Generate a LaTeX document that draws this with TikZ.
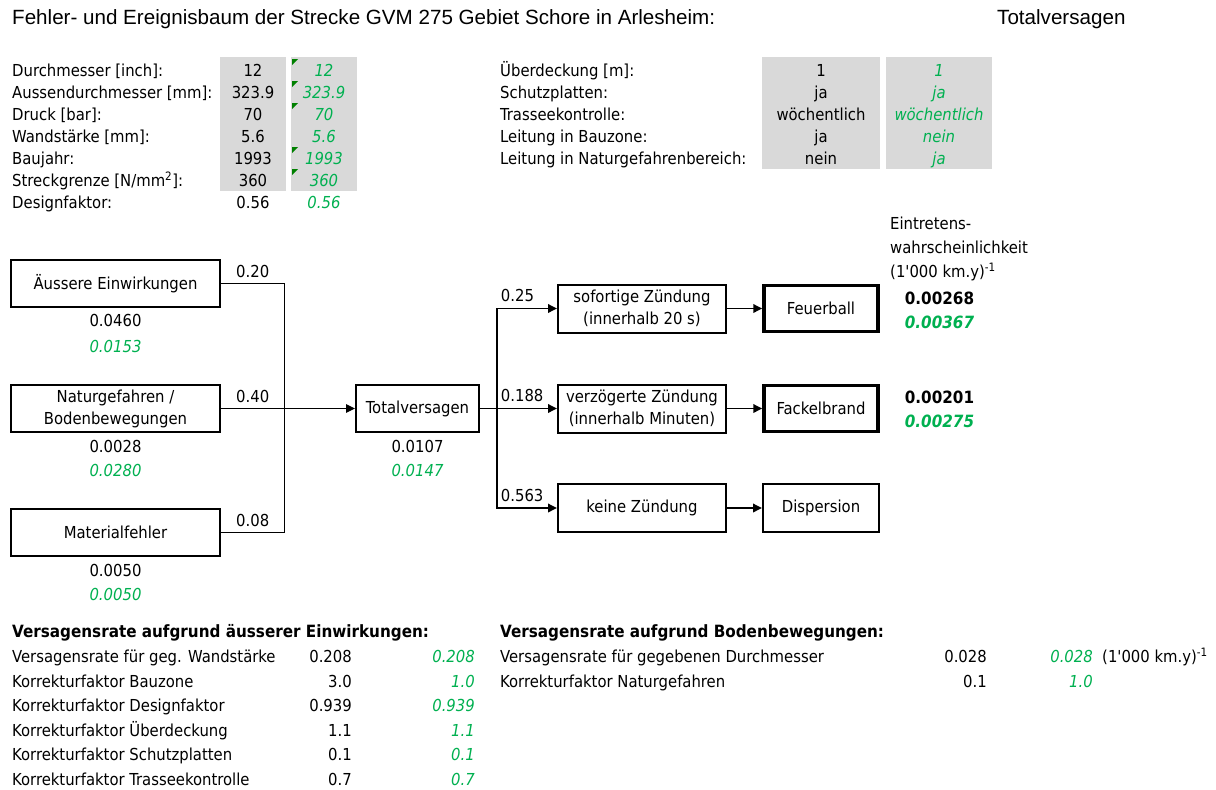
\documentclass[tikz,border=0pt]{standalone}
\usepackage{fontspec}
\setmainfont{DejaVu Sans Condensed}
\newfontfamily\titlefont{Liberation Sans}
\usetikzlibrary{arrows.meta,positioning}
\definecolor{xlgreen}{RGB}{0,176,80}
\definecolor{xlgray}{RGB}{217,217,217}
\definecolor{xlflag}{RGB}{0,128,0}

\begin{document}
\begin{tikzpicture}[
    x = 1pt,
    y = -1pt,
    >={Triangle[length=9pt,width=8.5pt]},
    txt/.style = {font=\fontsize{16.5}{22}\selectfont, inner sep=0pt,
    text height=11.9pt, text depth=0pt},
    lbl/.style = {txt, anchor=west},
    alt/.style = {txt, text=xlgreen, font=\fontsize{16.5}{22}\selectfont\itshape},
    res/.style = {txt, font=\fontsize{16.9}{22}\selectfont\bfseries},
    resalt/.style = {res, text=xlgreen, font=\fontsize{16.9}{22}\selectfont\bfseries\itshape},
    titletxt/.style = {inner sep=0pt, anchor=west, font=\titlefont\fontsize{20.6}{24}\selectfont},
    cell/.style = {fill=xlgray},
    flag/.style = {fill=xlflag},
    box/.style = {draw, line width=2pt, inner sep=0pt, align=center,
    font=\fontsize{16.5}{22}\selectfont, minimum height=47pt},
    endbox/.style = {box, line width=3.5pt, minimum height=46pt},
    conn/.style = {line width=1.8pt},
    thinconn/.style = {line width=1pt},
]
\useasboundingbox (0,0) rectangle (1216,790);

\node[titletxt] (title) at (12,19) {Fehler- und Ereignisbaum der Strecke GVM 275 Gebiet Schore in Arlesheim:};
\node[titletxt] (title_case) at (997,19) {Totalversagen};

\fill[cell] (220,57) rectangle (286,191);
\fill[cell] (291,57) rectangle (357,191);
\fill[cell] (762,57) rectangle (880,169);
\fill[cell] (886,57) rectangle (992,169);
\foreach \row in {0,1,2,4,5}
    \fill[flag] (292,59+22*\row) -- ++(6,0) -- ++(-6,6) -- cycle;

\node[lbl] (pipe_lab_0) at (12,70.5){Durchmesser [inch]:};
\node[lbl] (pipe_lab_1) at (12,92.5){Aussendurchmesser [mm]:};
\node[lbl] (pipe_lab_2) at (12,114.5){Druck [bar]:};
\node[lbl] (pipe_lab_3) at (12,136.5){Wandstärke [mm]:};
\node[lbl] (pipe_lab_4) at (12,158.5){Baujahr:};
\node[lbl] (pipe_lab_5) at (12,180.5){Streckgrenze [N/mm\textsuperscript{2}]:};
\node[lbl] (pipe_lab_6) at (12,202.5){Designfaktor:};
\node[txt] (pipe_val_0) at (253,70.5){12};
\node[txt] (pipe_val_1) at (253,92.5){323.9};
\node[txt] (pipe_val_2) at (253,114.5){70};
\node[txt] (pipe_val_3) at (253,136.5){5.6};
\node[txt] (pipe_val_4) at (253,158.5){1993};
\node[txt] (pipe_val_5) at (253,180.5){360};
\node[txt] (pipe_val_6) at (253,202.5){0.56};
\node[alt] (pipe_alt_0) at (324,70.5){12};
\node[alt] (pipe_alt_1) at (324,92.5){323.9};
\node[alt] (pipe_alt_2) at (324,114.5){70};
\node[alt] (pipe_alt_3) at (324,136.5){5.6};
\node[alt] (pipe_alt_4) at (324,158.5){1993};
\node[alt] (pipe_alt_5) at (324,180.5){360};
\node[alt] (pipe_alt_6) at (324,202.5){0.56};

\node[lbl] (site_lab_0) at (500,70.5){Überdeckung [m]:};
\node[lbl] (site_lab_1) at (500,92.5){Schutzplatten:};
\node[lbl] (site_lab_2) at (500,114.5){Trasseekontrolle:};
\node[lbl] (site_lab_3) at (500,136.5){Leitung in Bauzone:};
\node[lbl] (site_lab_4) at (500,158.5){Leitung in Naturgefahrenbereich:};
\node[txt] (site_val_0) at (821,70.5){1};
\node[txt] (site_val_1) at (821,92.5){ja};
\node[txt] (site_val_2) at (821,114.5){wöchentlich};
\node[txt] (site_val_3) at (821,136.5){ja};
\node[txt] (site_val_4) at (821,158.5){nein};
\node[alt] (site_alt_0) at (939,70.5){1};
\node[alt] (site_alt_1) at (939,92.5){ja};
\node[alt] (site_alt_2) at (939,114.5){wöchentlich};
\node[alt] (site_alt_3) at (939,136.5){nein};
\node[alt] (site_alt_4) at (939,158.5){ja};

\node[box, minimum width=209pt] (aeussere) at (115.5,283.5){Äussere Einwirkungen};
\node[box, minimum width=209pt] (natur) at (115.5,408.5){Naturgefahren /\\Bodenbewegungen};
\node[box, minimum width=209pt] (material) at (115.5,532.5){Materialfehler};
\node[box, minimum width=123pt] (total) at (417.5,408.5){Totalversagen};
\node[txt] (aeussere_val) at (115.5,321){0.0460};
\node[alt] (aeussere_alt) at (115.5,347){0.0153};
\node[txt] (natur_val) at (115.5,446.5){0.0028};
\node[alt] (natur_alt) at (115.5,471){0.0280};
\node[txt] (material_val) at (115.5,570.5){0.0050};
\node[alt] (material_alt) at (115.5,595){0.0050};
\node[txt] (total_val) at (417.5,446.5){0.0107};
\node[alt] (total_alt) at (417.5,471){0.0147};

\coordinate (fault_join) at (284.5,408.5);
\draw[conn] (aeussere.east) -| node[txt, pos=0.25, above=5pt]{0.20} (fault_join);
\draw[conn] (material.east) -| node[txt, pos=0.25, above=5pt]{0.08} (fault_join);
\draw[conn] (natur) -- node[txt, above=5pt]{0.40} (fault_join);
\draw[thinconn, ->] (fault_join) -- (total);

\node[box, minimum width=168pt, minimum height=48pt] (sofort) at (642,308.5){sofortige Zündung\\(innerhalb 20 s)};
\node[box, minimum width=168pt, minimum height=48pt] (verzoegert) at (642,408.5){verzögerte Zündung\\(innerhalb Minuten)};
\node[box, minimum width=168pt, minimum height=48pt] (keine) at (642,508){keine Zündung};
\node[endbox, minimum width=114pt] (feuerball) at (821,308.5){Feuerball};
\node[endbox, minimum width=114pt] (fackel) at (821,408.5){Fackelbrand};
\node[box, minimum width=116pt, minimum height=48pt] (dispersion) at (821,508){Dispersion};

\coordinate (event_join) at (497,408.5);
\draw[conn] (total) -- (event_join);
\draw[conn, ->] (event_join) |- node[txt, pos=0.5, above right=6pt and 3pt]{0.25} (sofort);
\draw[conn, ->] (event_join) -- node[txt, pos=0, above right=6pt and 3pt]{0.188} (verzoegert);
\draw[conn, ->] (event_join) |- node[txt, pos=0.5, above right=6pt and 3pt]{0.563} (keine);
\draw[conn, ->] (sofort) -- (feuerball);
\draw[conn, ->] (verzoegert) -- (fackel);
\draw[conn, ->] (keine) -- (dispersion);

\node[lbl] (freq_head_0) at (890,223.5){Eintretens-};
\node[lbl] (freq_head_1) at (890,248){wahrscheinlichkeit};
\node[lbl] (freq_head_2) at (890,272){(1\textquotesingle 000 km.y)\textsuperscript{-1}};
\node[res] (feuerball_res) at (939.5,298.5){0.00268};
\node[resalt] (feuerball_alt) at (939.5,322.5){0.00367};
\node[res] (fackel_res) at (939.5,398){0.00201};
\node[resalt] (fackel_alt) at (939.5,422){0.00275};

\node[res, anchor=west] (ext_head) at (12,632){Versagensrate aufgrund äusserer Einwirkungen:};
\node[lbl] (ext_lab_0) at (12,657){Versagensrate für geg. Wandstärke};
\node[lbl] (ext_lab_1) at (12,681.5){Korrekturfaktor Bauzone};
\node[lbl] (ext_lab_2) at (12,706){Korrekturfaktor Designfaktor};
\node[lbl] (ext_lab_3) at (12,730.5){Korrekturfaktor Überdeckung};
\node[lbl] (ext_lab_4) at (12,755){Korrekturfaktor Schutzplatten};
\node[lbl] (ext_lab_5) at (12,779.5){Korrekturfaktor Trasseekontrolle};
\node[txt, anchor=east] (ext_val_0) at (352,657){0.208};
\node[txt, anchor=east] (ext_val_1) at (352,681.5){3.0};
\node[txt, anchor=east] (ext_val_2) at (352,706){0.939};
\node[txt, anchor=east] (ext_val_3) at (352,730.5){1.1};
\node[txt, anchor=east] (ext_val_4) at (352,755){0.1};
\node[txt, anchor=east] (ext_val_5) at (352,779.5){0.7};
\node[alt, anchor=east] (ext_alt_0) at (475,657){0.208};
\node[alt, anchor=east] (ext_alt_1) at (475,681.5){1.0};
\node[alt, anchor=east] (ext_alt_2) at (475,706){0.939};
\node[alt, anchor=east] (ext_alt_3) at (475,730.5){1.1};
\node[alt, anchor=east] (ext_alt_4) at (475,755){0.1};
\node[alt, anchor=east] (ext_alt_5) at (475,779.5){0.7};

\node[res, anchor=west] (geo_head) at (500,632){Versagensrate aufgrund Bodenbewegungen:};
\node[lbl] (geo_lab_0) at (500,657){Versagensrate für gegebenen Durchmesser};
\node[lbl] (geo_lab_1) at (500,681.5){Korrekturfaktor Naturgefahren};
\node[txt, anchor=east] (geo_val_0) at (987,657){0.028};
\node[txt, anchor=east] (geo_val_1) at (987,681.5){0.1};
\node[alt, anchor=east] (geo_alt_0) at (1093,657){0.028};
\node[alt, anchor=east] (geo_alt_1) at (1093,681.5){1.0};
\node[lbl] (geo_unit) at (1102,657){(1\textquotesingle 000 km.y)\textsuperscript{-1}};
\end{tikzpicture}
\end{document}
